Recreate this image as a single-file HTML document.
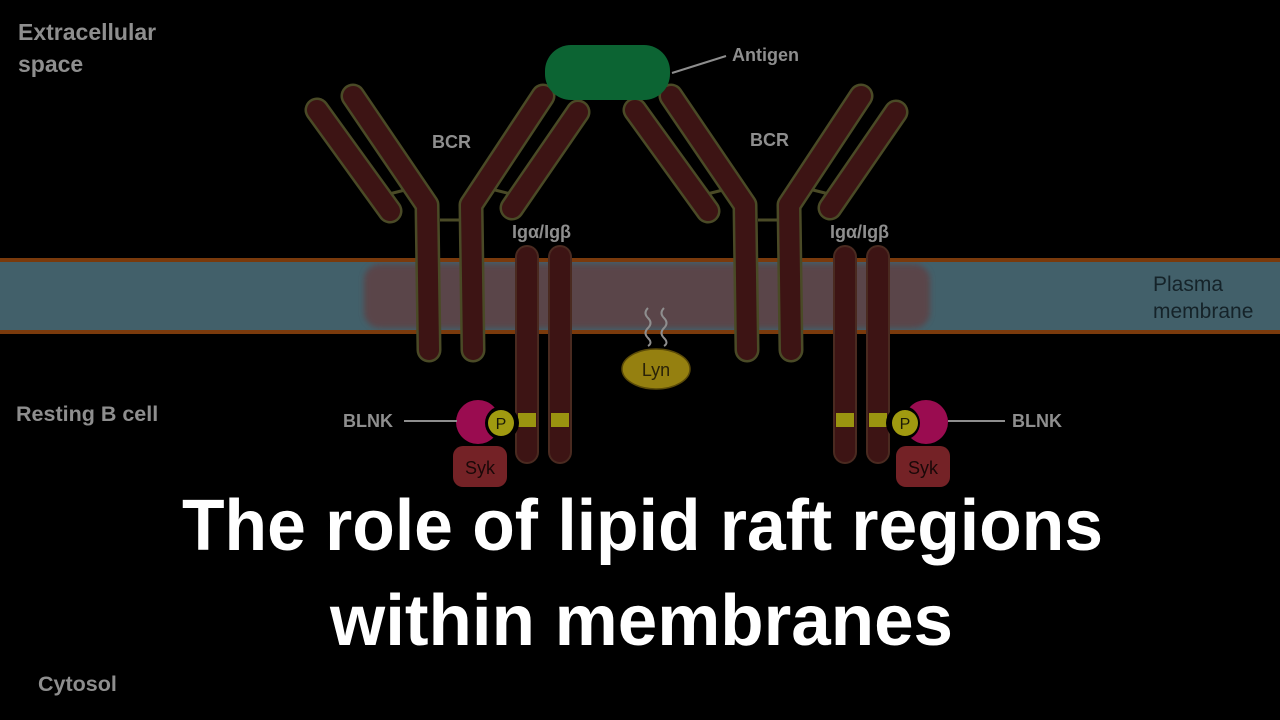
<!DOCTYPE html>
<html><head><meta charset="utf-8"><style>
html,body{margin:0;padding:0;background:#000;}
svg{display:block;}
text{font-family:"Liberation Sans",sans-serif;font-weight:bold;}
.l{fill:#8e8e8e;}
</style></head><body>
<svg width="1280" height="720" viewBox="0 0 1280 720" xmlns="http://www.w3.org/2000/svg">
<defs>
<filter id="blur" x="-10%" y="-30%" width="120%" height="160%"><feGaussianBlur stdDeviation="3"/></filter>
<g id="bcr">
  <g stroke="#4a4a26" stroke-width="25" stroke-linecap="round" fill="none" stroke-linejoin="round">
    <line x1="317" y1="110" x2="390" y2="211"/>
    <polyline points="353,96 427,205 429,350"/>
    <polyline points="543,96 471,205 473,350"/>
    <line x1="578" y1="112" x2="512" y2="208"/>
  </g>
  <g stroke="#4a4a26" stroke-width="3" fill="none">
    <line x1="385" y1="195" x2="405" y2="190"/>
    <line x1="495" y1="190" x2="515" y2="195"/>
    <line x1="440" y1="220" x2="460" y2="220"/>
  </g>
  <g stroke="#3d1414" stroke-width="20" stroke-linecap="round" fill="none" stroke-linejoin="round">
    <line x1="317" y1="110" x2="390" y2="211"/>
    <polyline points="353,96 427,205 429,350"/>
    <polyline points="543,96 471,205 473,350"/>
    <line x1="578" y1="112" x2="512" y2="208"/>
  </g>
  <g stroke="#4a2a20" stroke-width="24" stroke-linecap="round">
    <line x1="527" y1="257" x2="527" y2="452"/>
    <line x1="560" y1="257" x2="560" y2="452"/>
  </g>
  <g stroke="#3d1414" stroke-width="20" stroke-linecap="round">
    <line x1="527" y1="257" x2="527" y2="452"/>
    <line x1="560" y1="257" x2="560" y2="452"/>
  </g>
</g>
</defs>

<rect x="0" y="260" width="1280" height="72" fill="#42606a"/>
<rect x="364" y="264" width="566" height="64" rx="16" fill="#5a4549" filter="url(#blur)"/>
<rect x="0" y="258" width="1280" height="4" fill="#7a3a0c"/>
<rect x="0" y="330" width="1280" height="4" fill="#7a3a0c"/>

<use href="#bcr"/>
<use href="#bcr" transform="translate(318,0)"/>

<g fill="#9a9410">
  <rect x="518" y="413" width="18" height="14"/>
  <rect x="551" y="413" width="18" height="14"/>
  <rect x="836" y="413" width="18" height="14"/>
  <rect x="869" y="413" width="18" height="14"/>
</g>

<rect x="545" y="45" width="125" height="55" rx="26" fill="#0c6433"/>
<line x1="672" y1="73" x2="726" y2="56" stroke="#8e8e8e" stroke-width="2"/>
<text class="l" x="732" y="61" font-size="18">Antigen</text>

<g stroke="#8e8e8e" stroke-width="2" fill="none">
  <path d="M648,308 q-5,5 0,10 q5,5 0,10 q-5,5 0,10 q5,5 0,8"/>
  <path d="M664,308 q-5,5 0,10 q5,5 0,10 q-5,5 0,10 q5,5 0,8"/>
</g>
<ellipse cx="656" cy="369" rx="34" ry="20" fill="#958010" stroke="#5a4a08" stroke-width="1.5"/>
<text x="656" y="376" text-anchor="middle" font-size="18" fill="#2a2208" style="font-weight:normal">Lyn</text>

<rect x="453" y="446" width="54" height="41" rx="10" fill="#742226"/>
<text x="480" y="474" text-anchor="middle" font-size="18" fill="#1a0808" style="font-weight:normal">Syk</text>
<circle cx="478" cy="422" r="22" fill="#9a0c50"/>
<circle cx="502" cy="423" r="17" fill="#000"/>
<circle cx="501" cy="423" r="13" fill="#a09a10"/>
<text x="501" y="429" text-anchor="middle" font-size="16" fill="#1a1a08" style="font-weight:normal">P</text>
<line x1="404" y1="421" x2="457" y2="421" stroke="#8e8e8e" stroke-width="2"/>
<text class="l" x="343" y="427" font-size="18">BLNK</text>

<rect x="896" y="446" width="54" height="41" rx="10" fill="#742226"/>
<text x="923" y="474" text-anchor="middle" font-size="18" fill="#1a0808" style="font-weight:normal">Syk</text>
<circle cx="926" cy="422" r="22" fill="#9a0c50"/>
<circle cx="903" cy="423" r="17" fill="#000"/>
<circle cx="905" cy="423" r="13" fill="#a09a10"/>
<text x="905" y="429" text-anchor="middle" font-size="16" fill="#1a1a08" style="font-weight:normal">P</text>
<line x1="948" y1="421" x2="1005" y2="421" stroke="#8e8e8e" stroke-width="2"/>
<text class="l" x="1012" y="427" font-size="18">BLNK</text>

<text class="l" x="18" y="40" font-size="23">Extracellular</text>
<text class="l" x="18" y="72" font-size="23">space</text>
<text class="l" x="16" y="421" font-size="21.5">Resting B cell</text>
<text class="l" x="38" y="691" font-size="21.5">Cytosol</text>
<text class="l" x="432" y="148" font-size="18">BCR</text>
<text class="l" x="750" y="146" font-size="18">BCR</text>
<text class="l" x="512" y="238" font-size="18">Igα/Igβ</text>
<text class="l" x="830" y="238" font-size="18">Igα/Igβ</text>
<text x="1153" y="291" font-size="21" fill="#152329" style="font-weight:normal">Plasma</text>
<text x="1153" y="318" font-size="21" fill="#152329" style="font-weight:normal">membrane</text>

<text x="182" y="550" font-size="72" fill="#fff" textLength="921" lengthAdjust="spacingAndGlyphs">The role of lipid raft regions</text>
<text x="330" y="645" font-size="72" fill="#fff" textLength="623" lengthAdjust="spacingAndGlyphs">within membranes</text>
</svg>
</body></html>
